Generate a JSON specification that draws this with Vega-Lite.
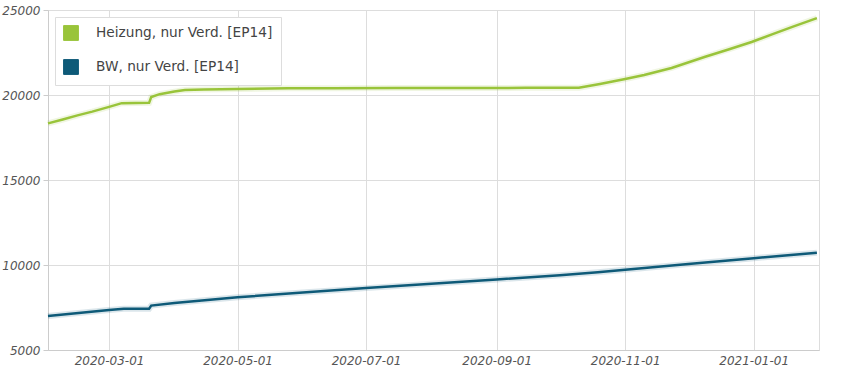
{
  "$schema": "https://vega.github.io/schema/vega-lite/v6.json",
  "width": 771,
  "height": 340,
  "autosize": "none",
  "padding": {"left": 48, "top": 10, "right": 31, "bottom": 25},
  "background": "white",
  "config": {
    "view": {"stroke": "#dddddd"},
    "font": "DejaVu Sans"
  },
  "data": {
    "values": [
      {"date": "2020-02-01", "series": "Heizung, nur Verd. [EP14]", "value": 18330},
      {"date": "2020-02-08", "series": "Heizung, nur Verd. [EP14]", "value": 18560},
      {"date": "2020-02-15", "series": "Heizung, nur Verd. [EP14]", "value": 18800},
      {"date": "2020-02-22", "series": "Heizung, nur Verd. [EP14]", "value": 19020},
      {"date": "2020-03-01", "series": "Heizung, nur Verd. [EP14]", "value": 19300},
      {"date": "2020-03-07", "series": "Heizung, nur Verd. [EP14]", "value": 19520},
      {"date": "2020-03-20", "series": "Heizung, nur Verd. [EP14]", "value": 19540},
      {"date": "2020-03-21", "series": "Heizung, nur Verd. [EP14]", "value": 19880},
      {"date": "2020-03-25", "series": "Heizung, nur Verd. [EP14]", "value": 20050},
      {"date": "2020-04-01", "series": "Heizung, nur Verd. [EP14]", "value": 20200},
      {"date": "2020-04-06", "series": "Heizung, nur Verd. [EP14]", "value": 20300},
      {"date": "2020-04-15", "series": "Heizung, nur Verd. [EP14]", "value": 20320},
      {"date": "2020-05-01", "series": "Heizung, nur Verd. [EP14]", "value": 20350},
      {"date": "2020-05-25", "series": "Heizung, nur Verd. [EP14]", "value": 20390},
      {"date": "2020-06-15", "series": "Heizung, nur Verd. [EP14]", "value": 20400},
      {"date": "2020-07-15", "series": "Heizung, nur Verd. [EP14]", "value": 20410},
      {"date": "2020-08-15", "series": "Heizung, nur Verd. [EP14]", "value": 20415},
      {"date": "2020-09-15", "series": "Heizung, nur Verd. [EP14]", "value": 20420},
      {"date": "2020-10-10", "series": "Heizung, nur Verd. [EP14]", "value": 20430},
      {"date": "2020-10-20", "series": "Heizung, nur Verd. [EP14]", "value": 20650},
      {"date": "2020-11-01", "series": "Heizung, nur Verd. [EP14]", "value": 20940},
      {"date": "2020-11-10", "series": "Heizung, nur Verd. [EP14]", "value": 21180},
      {"date": "2020-11-23", "series": "Heizung, nur Verd. [EP14]", "value": 21590},
      {"date": "2020-12-09", "series": "Heizung, nur Verd. [EP14]", "value": 22250},
      {"date": "2020-12-20", "series": "Heizung, nur Verd. [EP14]", "value": 22680},
      {"date": "2020-12-31", "series": "Heizung, nur Verd. [EP14]", "value": 23120},
      {"date": "2021-01-10", "series": "Heizung, nur Verd. [EP14]", "value": 23580},
      {"date": "2021-01-20", "series": "Heizung, nur Verd. [EP14]", "value": 24040},
      {"date": "2021-01-31", "series": "Heizung, nur Verd. [EP14]", "value": 24520},
      {"date": "2020-02-01", "series": "BW, nur Verd. [EP14]", "value": 7000},
      {"date": "2020-03-01", "series": "BW, nur Verd. [EP14]", "value": 7350},
      {"date": "2020-03-08", "series": "BW, nur Verd. [EP14]", "value": 7420},
      {"date": "2020-03-20", "series": "BW, nur Verd. [EP14]", "value": 7430},
      {"date": "2020-03-21", "series": "BW, nur Verd. [EP14]", "value": 7610},
      {"date": "2020-04-01", "series": "BW, nur Verd. [EP14]", "value": 7760},
      {"date": "2020-05-01", "series": "BW, nur Verd. [EP14]", "value": 8100},
      {"date": "2020-06-01", "series": "BW, nur Verd. [EP14]", "value": 8380},
      {"date": "2020-07-01", "series": "BW, nur Verd. [EP14]", "value": 8640},
      {"date": "2020-08-01", "series": "BW, nur Verd. [EP14]", "value": 8900},
      {"date": "2020-09-01", "series": "BW, nur Verd. [EP14]", "value": 9150},
      {"date": "2020-10-01", "series": "BW, nur Verd. [EP14]", "value": 9400},
      {"date": "2020-10-19", "series": "BW, nur Verd. [EP14]", "value": 9570},
      {"date": "2020-11-01", "series": "BW, nur Verd. [EP14]", "value": 9720},
      {"date": "2020-12-01", "series": "BW, nur Verd. [EP14]", "value": 10060},
      {"date": "2021-01-01", "series": "BW, nur Verd. [EP14]", "value": 10400},
      {"date": "2021-01-31", "series": "BW, nur Verd. [EP14]", "value": 10720}
    ]
  },
  "encoding": {
    "x": {
      "field": "date",
      "type": "temporal",
      "title": null,
      "scale": {
        "type": "utc",
        "domain": [
          {"year": 2020, "month": 2, "date": 1, "utc": true},
          {"year": 2021, "month": 2, "date": 1, "utc": true}
        ]
      },
      "axis": {
        "values": [
          {"year": 2020, "month": 3, "date": 1, "utc": true},
          {"year": 2020, "month": 5, "date": 1, "utc": true},
          {"year": 2020, "month": 7, "date": 1, "utc": true},
          {"year": 2020, "month": 9, "date": 1, "utc": true},
          {"year": 2020, "month": 11, "date": 1, "utc": true},
          {"year": 2021, "month": 1, "date": 1, "utc": true}
        ],
        "labelExpr": "utcFormat(datum.value, '%Y-%m-%d')",
        "labelFont": "DejaVu Sans",
        "labelFontSize": 12,
        "labelFontStyle": "italic",
        "labelColor": "#555555",
        "labelPadding": 5,
        "ticks": false,
        "domainColor": "#cccccc",
        "gridColor": "#dddddd",
        "labelFlush": false
      }
    },
    "y": {
      "field": "value",
      "type": "quantitative",
      "title": null,
      "scale": {"domain": [5000, 25000], "nice": false, "zero": false},
      "axis": {
        "values": [5000, 10000, 15000, 20000, 25000],
        "format": "d",
        "labelFont": "DejaVu Sans",
        "labelFontSize": 12,
        "labelFontStyle": "italic",
        "labelColor": "#555555",
        "labelPadding": 3,
        "tickSize": 5,
        "tickColor": "#cccccc",
        "domainColor": "#cccccc",
        "gridColor": "#dddddd"
      }
    },
    "color": {
      "field": "series",
      "type": "nominal",
      "sort": null,
      "scale": {
        "domain": ["Heizung, nur Verd. [EP14]", "BW, nur Verd. [EP14]"],
        "range": ["#99c43a", "#0e5a78"]
      },
      "legend": {
        "title": null,
        "orient": "top-left",
        "offset": 7,
        "fillColor": "white",
        "strokeColor": "#dddddd",
        "padding": 8,
        "symbolType": "square",
        "symbolSize": 220,
        "symbolStrokeWidth": 1,
        "symbolOpacity": 1,
        "labelFont": "DejaVu Sans",
        "labelFontSize": 13.7,
        "labelColor": "#444444",
        "labelOffset": 17,
        "rowPadding": 14,
        "labelLimit": 300,
        "encode": {
          "symbols": {
            "update": {
              "fill": {"scale": "color", "field": "value"},
              "stroke": {"value": "#cccccc"},
              "strokeWidth": {"value": 1},
              "opacity": {"value": 1}
            }
          }
        }
      }
    }
  },
  "layer": [
    {
      "mark": {"type": "line", "strokeWidth": 6, "opacity": 0.15}
    },
    {
      "mark": {"type": "line", "strokeWidth": 2.5}
    }
  ]
}
